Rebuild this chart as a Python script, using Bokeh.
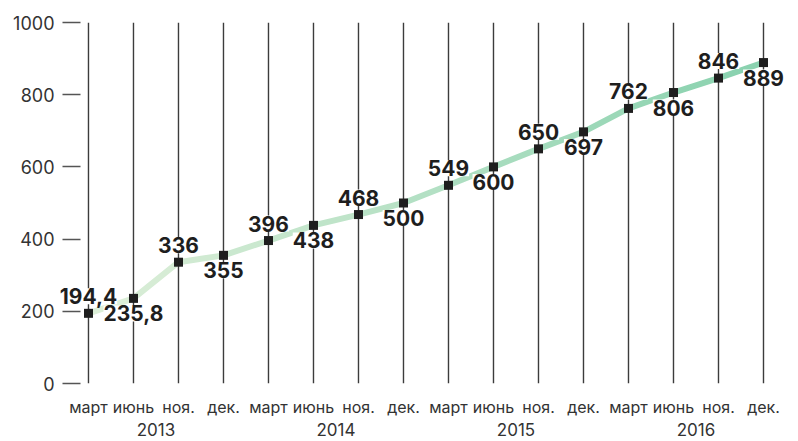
import numpy as np
from bokeh.plotting import figure
from bokeh.models import ColumnDataSource, FixedTicker, LinearAxis, Range1d, LabelSet
from bokeh.core.properties import value
from bokeh.embed import file_html
from bokeh.resources import INLINE

# ---- data ----
months = ["март", "июнь", "ноя.", "дек."] * 4
years = ["2013", "2014", "2015", "2016"]
values = [194.4, 235.8, 336, 355, 396, 438, 468, 500,
          549, 600, 650, 697, 762, 806, 846, 889]
y_ticks = [0, 200, 400, 600, 800, 1000]

FONT = "Inter"
n = len(values)
xs = list(range(n))
labels = [(f"{v:g}").replace(".", ",") for v in values]
offsets = [17 if i % 2 == 0 else -15 for i in range(n)]

p = figure(width=798, height=441, output_backend="svg", toolbar_location=None,
           x_range=Range1d(-0.644, n - 1 + 0.489), y_range=Range1d(y_ticks[0], y_ticks[-1]),
           min_border_left=59, min_border_right=13, min_border_top=22, min_border_bottom=58)
p.outline_line_color = None
p.xgrid.visible = False
p.ygrid.visible = False
p.background_fill_color = "white"

# vertical lines
p.segment(x0=xs, y0=[y_ticks[0]] * n, x1=xs, y1=[y_ticks[-1]] * n,
          line_color="#3c3c3c", line_width=1.4)

# gradient band
c0 = np.array([0xdc, 0xef, 0xd8])
c1 = np.array([0x8b, 0xd2, 0xb0])
cols = []
for i in range(n - 1):
    t = i / (n - 2)
    c = (c0 * (1 - t) + c1 * t).astype(int)
    cols.append("#%02x%02x%02x" % tuple(c))
p.segment(x0=xs[:-1], y0=values[:-1], x1=xs[1:], y1=values[1:],
          line_color=cols, line_width=6, line_cap="round")

# labels
src = ColumnDataSource(dict(x=xs, y=values, t=labels, off=offsets))
ls = LabelSet(x="x", y="y", text="t", source=src, y_offset="off",
              text_align="center", text_baseline="middle",
              text_font=value(FONT), text_font_style="bold", text_font_size="21px",
              text_color="#1e1e1e", background_fill_color="white", background_fill_alpha=1.0)
p.add_layout(ls)

# markers on top
p.scatter(x=xs, y=values, marker="square", size=9, fill_color="#1e1e1e",
          line_color=None, level="overlay")

# y axis
ya = p.yaxis[0]
ya.ticker = FixedTicker(ticks=y_ticks)
ya.axis_line_color = None
ya.major_tick_out = -3
ya.major_tick_in = 21
ya.minor_tick_line_color = None
ya.major_tick_line_color = "#555555"
ya.major_tick_line_width = 1.5
ya.major_label_standoff = 5
ya.major_label_text_font = FONT
ya.major_label_text_font_size = "18px"
ya.major_label_text_color = "#333333"

# x axis: months
xa = p.xaxis[0]
xa.ticker = FixedTicker(ticks=xs)
xa.major_label_overrides = {i: m for i, m in enumerate(months)}
xa.axis_line_color = None
xa.major_tick_line_color = None
xa.minor_tick_line_color = None
xa.major_tick_out = 0
xa.major_label_standoff = 13
xa.major_label_text_font = FONT
xa.major_label_text_font_size = "16px"
xa.major_label_text_color = "#333333"

# x axis: years (centred on each group of months)
per = n // len(years)
yr_pos = [i * per + (per - 1) / 2 for i in range(len(years))]
xa2 = LinearAxis(ticker=FixedTicker(ticks=yr_pos),
                 major_label_overrides={pos: y for pos, y in zip(yr_pos, years)})
xa2.axis_line_color = None
xa2.major_tick_line_color = None
xa2.minor_tick_line_color = None
xa2.major_tick_out = 0
xa2.major_label_standoff = 3
xa2.major_label_text_font = FONT
xa2.major_label_text_font_size = "17px"
xa2.major_label_text_color = "#333333"
p.add_layout(xa2, "below")

open("out.html", "w").write(file_html(p, INLINE))
